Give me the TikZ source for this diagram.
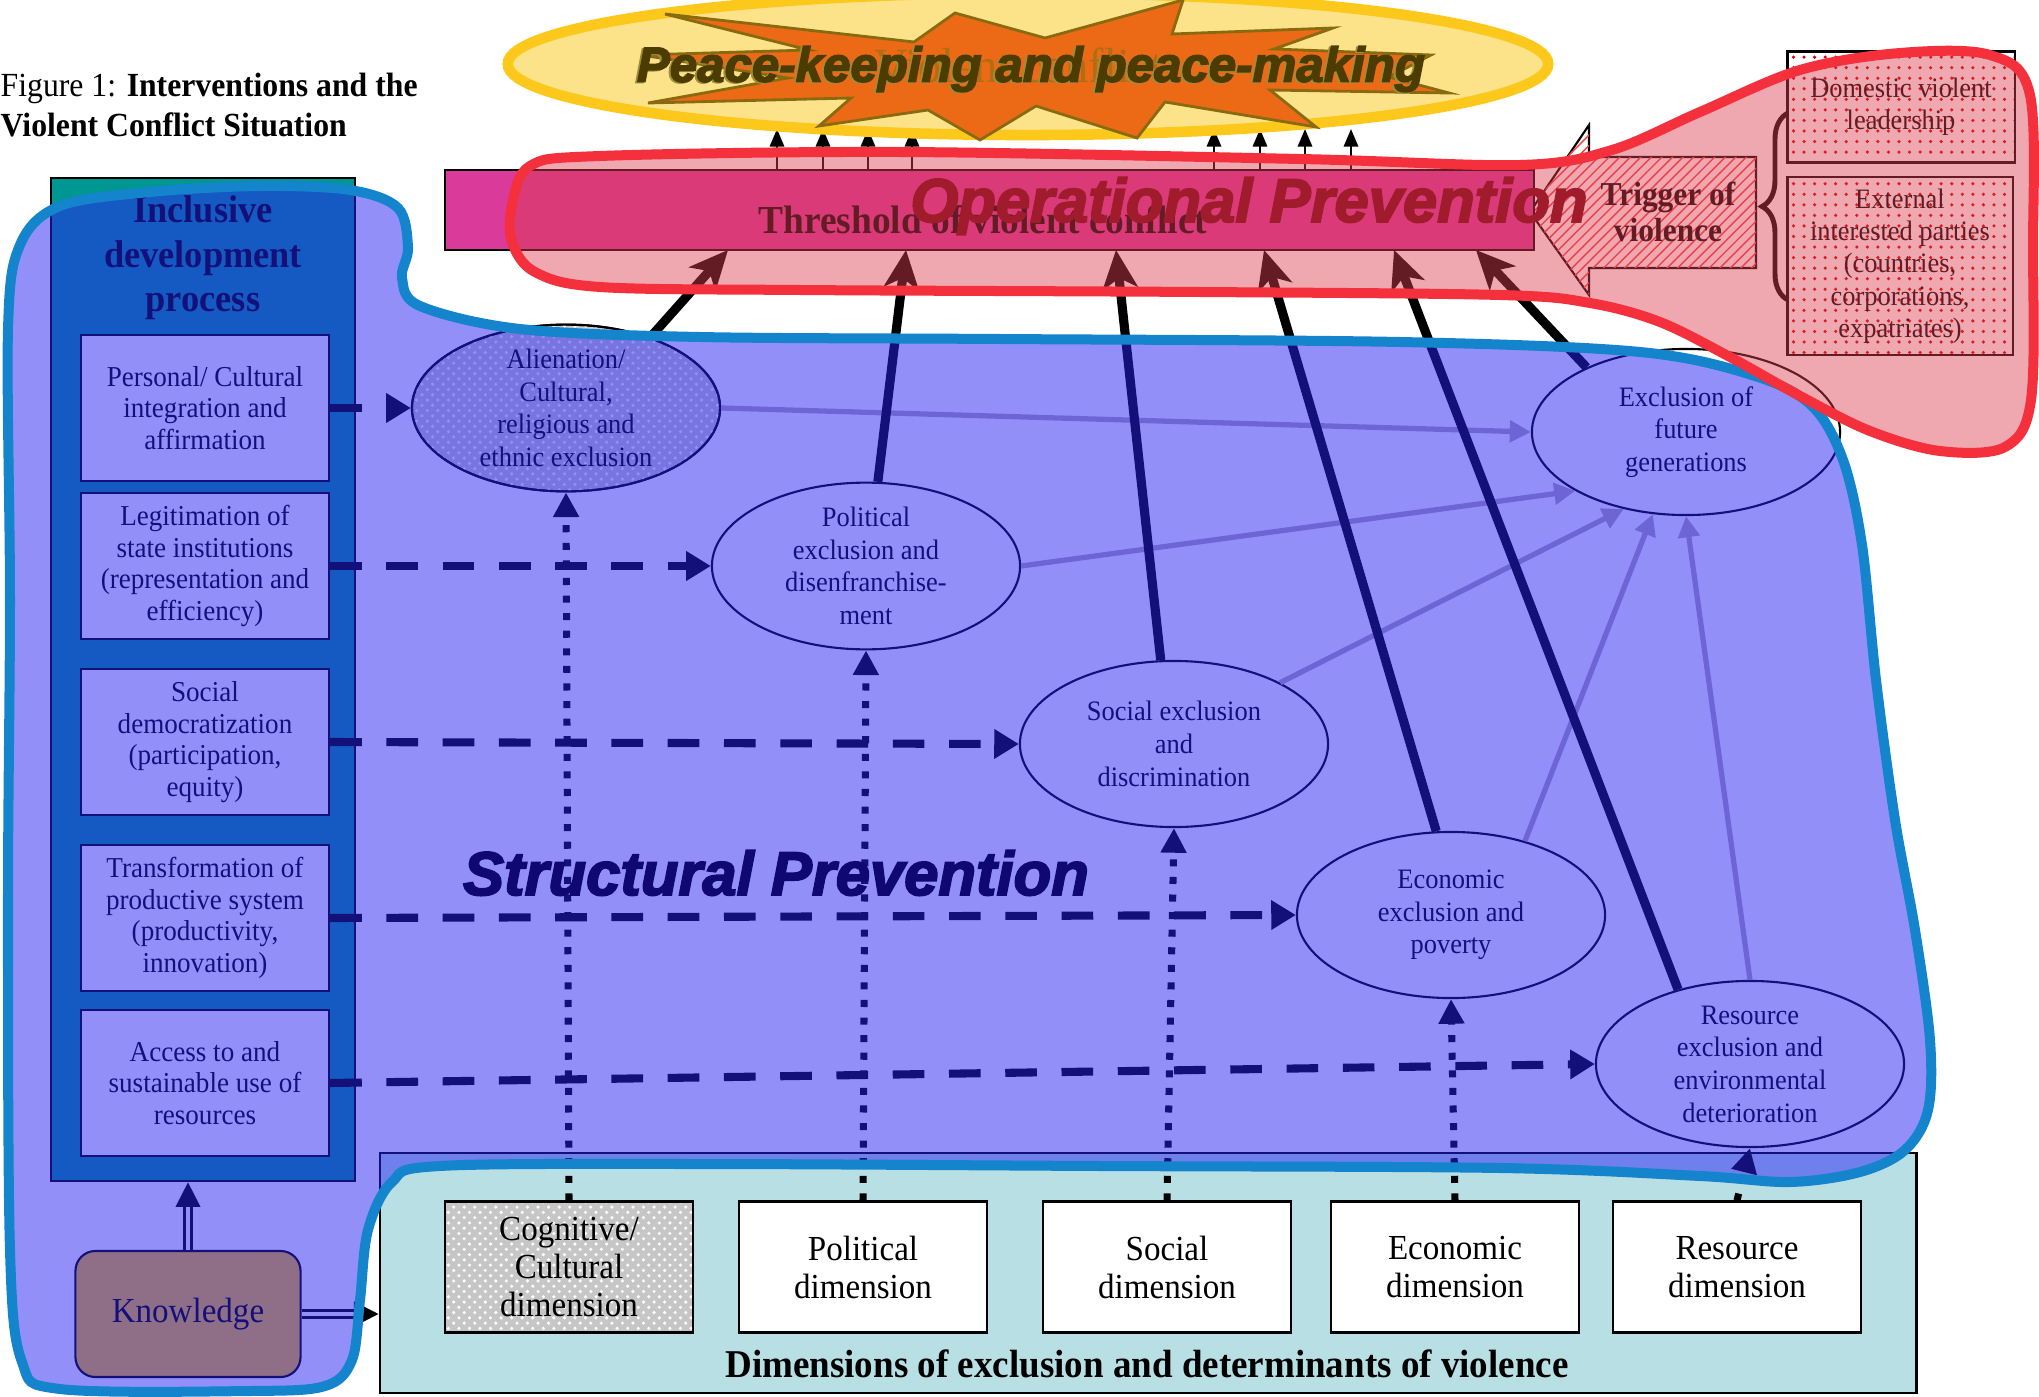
\documentclass[tikz,border=0pt]{standalone}
\usepackage{fontspec}
\setmainfont{Liberation Serif}[FakeStretch=0.94]
\newfontfamily\annotfont{Liberation Sans}[BoldItalicFeatures={FakeBold=3}]
\usepackage{tikz}
\usetikzlibrary{arrows.meta}
\usetikzlibrary{patterns}
\usetikzlibrary{shapes.geometric}
\usetikzlibrary{decorations.pathreplacing}

\definecolor{tealbox}{RGB}{0,150,145}
\definecolor{dimcyan}{RGB}{184,224,228}
\definecolor{knowgold}{RGB}{248,192,28}
\definecolor{threshmag}{RGB}{218,58,154}
\definecolor{feedgray}{RGB}{180,172,184}
\definecolor{bluewash}{RGB}{40,32,244}
\definecolor{blueline}{RGB}{20,132,204}
\definecolor{redwash}{RGB}{220,60,80}
\definecolor{redline}{RGB}{244,48,60}
\definecolor{opred}{RGB}{160,28,44}
\definecolor{strnavy}{RGB}{14,8,112}
\definecolor{peacefill}{RGB}{252,227,138}
\definecolor{peaceline}{RGB}{253,200,28}
\definecolor{starfill}{RGB}{236,106,22}
\definecolor{starline}{RGB}{138,106,16}
\definecolor{peacetext}{RGB}{77,60,0}
\definecolor{peaceshadow}{RGB}{160,140,60}
\definecolor{hiddentext}{RGB}{176,110,20}

\begin{document}
\begin{tikzpicture}[x=0.01cm, y=-0.01cm]
		\tikzset{box/.style={shape=rectangle, draw, fill=white, line width=0.6pt, align=center, inner sep=1pt, minimum width=2.48cm}}
		\tikzset{lever/.style={box, minimum height=1.46cm, font=\fontsize{8.2}{9}\selectfont}}
		\tikzset{dimension/.style={box, minimum height=1.31cm, font=\fontsize{10}{10.8}\selectfont}}
		\tikzset{exclusion/.style={shape=ellipse, draw, fill=white, line width=0.6pt, align=center, inner sep=0pt, minimum width=3.08cm, minimum height=1.66cm, font=\fontsize{8}{9.3}\selectfont}}
		\tikzset{textured/.style={postaction={pattern=crosshatch dots, pattern color=white}, postaction={draw, line width=0.6pt}}}
		\tikzset{reddots/.style={postaction={pattern=dots, pattern color=red!85!black}, postaction={draw, line width=0.6pt}}}
		\tikzset{policy/.style={line width=2.3pt, dash pattern=on 9pt off 7pt, -{Triangle[length=7pt,width=8pt]}}}
		\tikzset{source/.style={line width=2pt, dash pattern=on 2pt off 3pt, -{Triangle[length=7pt,width=7pt]}}}
		\tikzset{escalate/.style={line width=2.6pt, -{Stealth[length=11pt,width=10pt,inset=3pt]}}}
		\tikzset{feedback/.style={feedgray, line width=1.5pt, -{Triangle[length=6pt,width=6pt]}}}
		\tikzset{knowflow/.style={double, double distance=1.4pt, line width=0.6pt, -{Triangle[length=7pt,width=7pt]}}}
		\tikzset{annot/.style={font=\annotfont\fontsize{17.5}{18}\selectfont\bfseries\itshape}}
		\useasboundingbox (0,0) rectangle (2039,1397);
		%caption
		\node[anchor=west, align=left, inner sep=0pt, font=\fontsize{9.6}{11.4}\selectfont] (caption) at (0,105) {Figure 1: \textbf{Interventions and the}\\\textbf{Violent Conflict Situation}};
		%inclusive development process
		\node[draw, fill=tealbox, line width=0.6pt, minimum width=3.04cm, minimum height=10.03cm, inner sep=0pt] (incl) at (203,679.5) {};
		\node[align=center, font=\fontsize{11}{12.6}\selectfont\bfseries] (incltitle) at (203,258) {Inclusive\\development\\process};
		\node[lever] (integ) at (205,408) {Personal/ Cultural\\integration and\\affirmation};
		\node[lever] (legit) at (205,566) {Legitimation of\\state institutions\\(representation and\\efficiency)};
		\node[lever] (democ) at (205,742) {Social\\democratization\\(participation,\\equity)};
		\node[lever] (transf) at (205,918) {Transformation of\\productive system\\(productivity,\\innovation)};
		\node[lever] (access) at (205,1083) {Access to and\\sustainable use of\\resources};
		\node[draw, fill=knowgold, rounded corners=0.2cm, line width=0.6pt, minimum width=2.25cm, minimum height=1.26cm, font=\fontsize{10}{12}\selectfont] (know) at (188,1314) {Knowledge};
		%dimensions
		\node[draw, fill=dimcyan, line width=0.6pt, minimum width=15.36cm, minimum height=2.4cm, inner sep=0pt] (dimbox) at (1148,1273) {};
		\node[font=\fontsize{11.2}{12}\selectfont\bfseries] (dimtitle) at (1147,1364) {Dimensions of exclusion and determinants of violence};
		\node[dimension, fill=gray!45, textured] (dcog) at (569,1267) {Cognitive/\\Cultural\\dimension};
		\node[dimension] (dpol) at (863,1267) {Political\\dimension};
		\node[dimension] (dsoc) at (1167,1267) {Social\\dimension};
		\node[dimension] (deco) at (1455,1267) {Economic\\dimension};
		\node[dimension] (dres) at (1737,1267) {Resource\\dimension};
		%exclusions
		\node[exclusion, fill=gray!40, textured] (alien) at (566,408) {Alienation/\\Cultural,\\religious and\\ethnic exclusion};
		\node[exclusion] (polex) at (866,566) {Political\\exclusion and\\disenfranchise-\\ment};
		\node[exclusion] (socex) at (1174,744) {Social exclusion\\and\\discrimination};
		\node[exclusion] (ecoex) at (1451,915) {Economic\\exclusion and\\poverty};
		\node[exclusion] (resex) at (1750,1064) {Resource\\exclusion and\\environmental\\deterioration};
		\node[exclusion] (future) at (1686,432) {Exclusion of\\future\\generations};
		%trigger and threshold
		\filldraw[fill=white, postaction={pattern=north east lines, pattern color=red!75}, line width=0.6pt] (1589,125) -- (1530,212) -- (1589,295) -- (1589,268) -- (1756,268) -- (1756,157) -- (1589,157) -- cycle;
		\node[align=center, font=\fontsize{9.5}{10.3}\selectfont\bfseries] (trigger) at (1668,212) {Trigger of\\violence};
		\node[draw, fill=threshmag, line width=0.6pt, minimum width=10.89cm, minimum height=0.8cm, inner sep=0pt] (thresh) at (989.5,210) {};
		\node[font=\fontsize{11.3}{12}\selectfont\bfseries] (threshtext) at (983,220) {Threshold of violent conflict};
		\node[draw, fill=white, reddots, line width=0.6pt, minimum width=2.27cm, minimum height=1.11cm, align=center, font=\fontsize{8}{9.2}\selectfont] (domestic) at (1901,107) {Domestic violent\\leadership};
		\node[draw, fill=white, reddots, line width=0.6pt, minimum width=2.25cm, minimum height=1.75cm, align=center, font=\fontsize{8}{9.2}\selectfont] (external) at (1900,266) {External\\interested parties\\(countries,\\corporations,\\expatriates)};
		\coordinate (bracebot) at (1788,300);
		\coordinate (bracetop) at (1788,113);
		\draw[decorate, decoration={brace, amplitude=0.26cm}, line width=1.4pt] (bracebot) -- (bracetop);
		%edges
		\draw[policy] (integ.east) -- (alien.west);
		\draw[policy] (legit.east) -- (polex.west);
		\draw[policy] (democ.east) -- (socex.west);
		\draw[policy] (transf.east) -- (ecoex.west);
		\draw[policy] (access.east) -- (resex.west);
		\draw[source] (dcog.north) -- (alien.south);
		\draw[source] (dpol.north) -- (polex.south);
		\draw[source] (dsoc.north) -- (socex.south);
		\draw[source] (deco.north) -- (ecoex.south);
		\draw[source] (dres.north) -- (resex.south);
		\draw[feedback] (alien.east) -- (future.west);
		\draw[feedback] (polex.east) -- (future.208);
		\draw[feedback] (socex.30) -- (future.231);
		\draw[feedback] (ecoex.45) -- (future.248);
		\draw[feedback] (resex.north) -- (future.south);
		\coordinate (t1) at (728,250);
		\coordinate (t2) at (906,250);
		\coordinate (t3) at (1116,250);
		\coordinate (t4) at (1264,250);
		\coordinate (t5) at (1394,250);
		\coordinate (t6) at (1476,250);
		\draw[escalate] (alien.40) -- (t1);
		\draw[escalate] (polex.82) -- (t2);
		\draw[escalate] (socex.99) -- (t3);
		\draw[escalate] (ecoex.100) -- (t4);
		\draw[escalate] (resex.134) -- (t5);
		\draw[escalate] (future.147) -- (t6);
		\draw[knowflow] (know.north) -- (know.north |- incl.south);
		\draw[knowflow] (know.east) -- (know.east -| dimbox.west);
		\foreach \x in {777,823,868,912,1214,1260,1305,1351}
			\draw[line width=0.8pt, -{Triangle[length=5pt,width=4pt]}] (\x,0 |- thresh.north) -- ++(0,-40);
		%peace-keeping
		\node[ellipse, draw=peaceline, line width=3pt, fill=peacefill, minimum width=10.4cm, minimum height=1.42cm] (peace) at (1028,64) {};
		\filldraw[fill=starfill, draw=starline, line width=0.8pt] (665,14) -- (914,42) -- (955,13) -- (1045,38) -- (1183,0) -- (1172,34) -- (1333,28) -- (1274,49) -- (1431,55) -- (1389,77) -- (1449,93) -- (1270,90) -- (1316,127) -- (1165,102) -- (1137,138) -- (1036,106) -- (980,140) -- (928,110) -- (819,126) -- (851,98) -- (648,103) -- (788,78) -- (641,55) -- (809,50) -- cycle;
		\node[text=hiddentext, font=\fontsize{14}{14}\selectfont] (hidden) at (1019,66) {Violent conflict};
		\node[text=peaceshadow, annot, font=\annotfont\fontsize{14}{14}\selectfont\bfseries\itshape] (peaceshade) at (1029,70) {Peace-keeping and peace-making};
		\node[text=peacetext, annot, font=\annotfont\fontsize{14}{14}\selectfont\bfseries\itshape] (peacetext) at (1031,69) {Peace-keeping and peace-making};
		%prevention areas
		\filldraw[fill=bluewash, fill opacity=0.5, draw=blueline, line width=0.1cm] plot[smooth cycle, tension=0.55] coordinates {(8,330) (20,245) (60,206) (150,192) (260,186) (350,190) (398,208) (408,248) (402,278) (420,306) (520,329) (700,337) (1000,339) (1400,342) (1640,352) (1755,376) (1812,406) (1843,460) (1862,545) (1876,680) (1895,820) (1915,930) (1930,1040) (1928,1110) (1905,1150) (1860,1172) (1790,1182) (1700,1176) (1500,1168) (1100,1166) (700,1164) (440,1166) (392,1182) (368,1230) (360,1300) (352,1360) (325,1386) (250,1391) (60,1389) (22,1362) (10,1250) (8,900) (10,600)};
		\filldraw[fill=redwash, fill opacity=0.45, draw=redline, line width=0.1cm] plot[smooth cycle, tension=0.55] coordinates {(512,205) (530,166) (600,156) (900,152) (1300,159) (1520,165) (1612,150) (1700,112) (1800,70) (1900,53) (1990,55) (2030,95) (2033,250) (2031,400) (2005,447) (1940,451) (1870,431) (1800,396) (1730,357) (1660,322) (1590,303) (1500,295) (1200,292) (800,290) (600,287) (535,272) (512,242)};
		\node[annot, text=strnavy] (structural) at (776,873) {Structural Prevention};
		\node[annot, text=opred] (operational) at (1249,206) {Operational Prevention};
\end{tikzpicture}
\end{document}
